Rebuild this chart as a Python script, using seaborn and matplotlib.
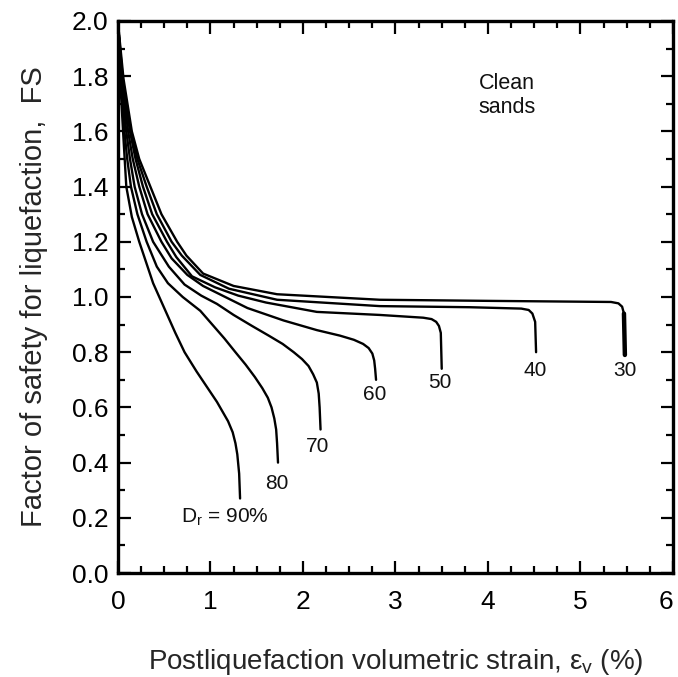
import seaborn as sns
import pandas as pd
import matplotlib.pyplot as plt
from matplotlib.ticker import MultipleLocator

# relative density of each curve (%)
densities = [90, 80, 70, 60, 50, 40, 30]

# postliquefaction volumetric strain (%) and FS
strain_90 = [0.01, 0.03, 0.055, 0.09, 0.15, 0.23, 0.30, 0.38, 0.50, 0.62, 0.72, 0.85, 0.97, 1.07, 1.13, 1.19, 1.24, 1.27, 1.29, 1.31, 1.32]
fs_90 = [1.94, 1.75, 1.60, 1.40, 1.29, 1.20, 1.13, 1.05, 0.96, 0.87, 0.80, 0.73, 0.67, 0.62, 0.585, 0.55, 0.51, 0.47, 0.43, 0.36, 0.27]

strain_80 = [0.01, 0.035, 0.07, 0.10, 0.14, 0.21, 0.31, 0.42, 0.54, 0.70, 0.89, 1.02, 1.15, 1.27, 1.38, 1.48, 1.56, 1.62, 1.66, 1.69, 1.71, 1.72, 1.73]
fs_80 = [1.94, 1.76, 1.60, 1.50, 1.40, 1.30, 1.20, 1.11, 1.05, 1.00, 0.95, 0.90, 0.85, 0.80, 0.755, 0.71, 0.67, 0.635, 0.60, 0.56, 0.52, 0.47, 0.40]

strain_70 = [0.01, 0.04, 0.09, 0.13, 0.18, 0.26, 0.38, 0.55, 0.72, 0.90, 1.07, 1.25, 1.45, 1.63, 1.78, 1.90, 1.99, 2.06, 2.11, 2.15, 2.17, 2.18, 2.19]
fs_70 = [1.94, 1.76, 1.60, 1.50, 1.40, 1.30, 1.20, 1.11, 1.045, 1.005, 0.975, 0.935, 0.895, 0.86, 0.83, 0.80, 0.775, 0.75, 0.72, 0.69, 0.65, 0.60, 0.52]

strain_60 = [0.01, 0.045, 0.11, 0.16, 0.23, 0.32, 0.47, 0.58, 0.75, 0.92, 1.10, 1.40, 1.79, 2.15, 2.40, 2.55, 2.65, 2.71, 2.75, 2.77, 2.78, 2.79]
fs_60 = [1.94, 1.77, 1.60, 1.50, 1.40, 1.30, 1.20, 1.14, 1.08, 1.04, 1.01, 0.96, 0.915, 0.88, 0.86, 0.845, 0.83, 0.815, 0.795, 0.77, 0.74, 0.70]

strain_50 = [0.01, 0.05, 0.13, 0.19, 0.27, 0.37, 0.53, 0.63, 0.80, 1.05, 1.30, 1.60, 2.15, 2.83, 3.30, 3.39, 3.44, 3.47, 3.49, 3.50]
fs_50 = [1.95, 1.78, 1.60, 1.50, 1.40, 1.30, 1.20, 1.145, 1.075, 1.035, 1.005, 0.98, 0.946, 0.935, 0.925, 0.92, 0.91, 0.895, 0.87, 0.74]

strain_40 = [0.01, 0.055, 0.14, 0.21, 0.31, 0.42, 0.58, 0.69, 0.89, 1.20, 1.72, 2.83, 3.80, 4.36, 4.44, 4.48, 4.51, 4.52]
fs_40 = [1.95, 1.78, 1.60, 1.50, 1.40, 1.30, 1.20, 1.15, 1.08, 1.03, 0.99, 0.967, 0.963, 0.958, 0.953, 0.94, 0.91, 0.80]

strain_30 = [0.01, 0.06, 0.15, 0.23, 0.35, 0.47, 0.64, 0.74, 0.92, 1.25, 1.72, 2.83, 4.00, 5.33, 5.41, 5.45, 5.47, 5.48]
fs_30 = [1.96, 1.79, 1.60, 1.50, 1.40, 1.30, 1.20, 1.15, 1.085, 1.04, 1.01, 0.99, 0.986, 0.982, 0.977, 0.965, 0.94, 0.79]

# curve labels
label_texts = ['D$_r$ = 90%', '80', '70', '60', '50', '40', '30']
label_x = [1.16, 1.72, 2.16, 2.78, 3.48, 4.51, 5.48]
label_y = [0.20, 0.325, 0.457, 0.645, 0.69, 0.735, 0.735]

strains = [strain_90, strain_80, strain_70, strain_60, strain_50, strain_40, strain_30]
fss = [fs_90, fs_80, fs_70, fs_60, fs_50, fs_40, fs_30]

rows = []
for dr, xs, ys in zip(densities, strains, fss):
    for x, y in zip(xs, ys):
        rows.append({'dr': dr, 'strain': x, 'fs': y})
df = pd.DataFrame(rows)

sns.set_theme(style='ticks')
plt.rcParams['font.family'] = ['Liberation Sans', 'DejaVu Sans']
plt.rcParams['mathtext.default'] = 'regular'

fig = plt.figure(figsize=(6.78, 6.77), dpi=100)
ax = fig.add_axes([0.174, 0.1536, 0.8186, 0.8154])

sns.lineplot(data=df, x='strain', y='fs', units='dr', estimator=None, sort=False,
             color='black', linewidth=1.7, ax=ax)
# the Dr = 30% drop is drawn heavier in the original
sns.lineplot(x=strain_30[-2:], y=fs_30[-2:], sort=False, color='black', linewidth=3.2, ax=ax)

for t, x, y in zip(label_texts, label_x, label_y):
    ax.text(x, y, t, fontsize=15, ha='center', va='center', color='#111111')

ax.text(3.9, 1.73, 'Clean\nsands', fontsize=15.5, ha='left', va='center',
        linespacing=1.2, color='#111111')

ax.set_xlim(0, 6)
ax.set_ylim(0, 2.0)
ax.xaxis.set_major_locator(MultipleLocator(1))
ax.xaxis.set_minor_locator(MultipleLocator(0.25))
ax.yaxis.set_major_locator(MultipleLocator(0.2))
ax.yaxis.set_minor_locator(MultipleLocator(0.1))
ax.yaxis.set_major_formatter(plt.FormatStrFormatter('%.1f'))

ax.tick_params(which='both', direction='in', top=True, right=True, width=1.6,
               labelsize=19, colors='black')
ax.tick_params(axis='x', which='both', pad=12)
ax.tick_params(axis='y', which='both', pad=7)
ax.tick_params(which='major', length=9)
ax.tick_params(which='minor', length=5)
for s in ax.spines.values():
    s.set_linewidth(2.4)
    s.set_color('black')

ax.set_xlabel('Postliquefaction volumetric strain, ε$_v$ (%)', fontsize=20, labelpad=24)
ax.set_ylabel('Factor of safety for liquefaction,  FS', fontsize=21, labelpad=17)

# keep the last x label ("6") inside the figure edge
fig.canvas.draw()
for lab in ax.get_xticklabels():
    if lab.get_text() == '6':
        lab.set_horizontalalignment('right')

plt.savefig('out.png', dpi=100)
